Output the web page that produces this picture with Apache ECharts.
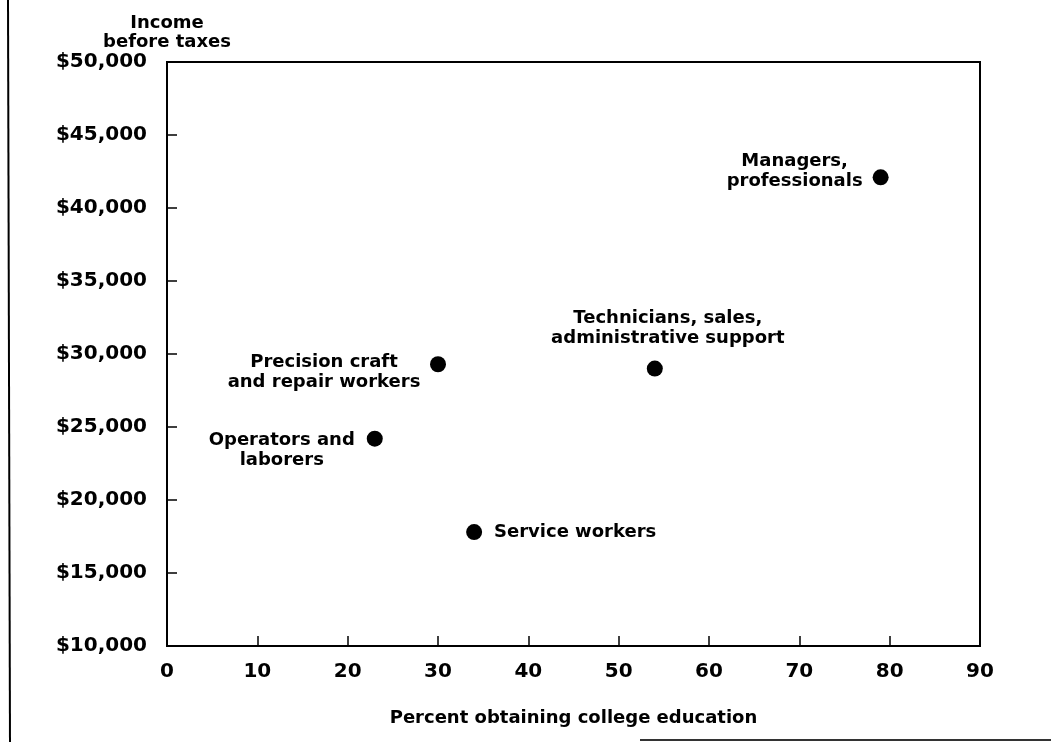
<!DOCTYPE html>
<html>
<head>
<meta charset="utf-8">
<script src="https://cdn.jsdelivr.net/npm/echarts@6/dist/echarts.min.js"></script>
<style>
  html, body { margin: 0; padding: 0; background: #fff; }
  #chart { width: 1051px; height: 742px; }
</style>
</head>
<body>
<div id="chart"></div>
<script>
// occupation groups
var groups = ['Managers,\nprofessionals', 'Technicians, sales,\nadministrative support',
              'Precision craft\nand repair workers', 'Operators and\nlaborers', 'Service workers'];
var collegePct = [79, 54, 30, 23, 34];
var income = [42100, 29000, 29300, 24200, 17800];

// where each label sits relative to its dot
var labelOffsets = [[-86, -6], [13, -40], [-114, 8], [-93, 12], [101, 0]];

var font = 'DejaVu Sans';

function dollars(v) {
  var s = String(v);
  return '$' + s.slice(0, s.length - 3) + ',' + s.slice(-3);
}

var data = [];
for (var i = 0; i < groups.length; i++) {
  data.push({
    name: groups[i],
    value: [collegePct[i], income[i]],
    label: { offset: labelOffsets[i] }
  });
}

var chart = echarts.init(document.getElementById('chart'));
var option = {
  backgroundColor: '#fff',
  animation: false,
  textStyle: { fontFamily: font },
  grid: {
    left: 167, top: 62, right: 71, bottom: 96,
    show: true, borderColor: '#000', borderWidth: 2
  },
  xAxis: {
    type: 'value',
    min: 0, max: 90, interval: 10,
    name: 'Percent obtaining college education',
    nameLocation: 'middle',
    nameGap: 63,
    nameTextStyle: { color: '#000', fontSize: 18, fontWeight: 'bold', fontFamily: font },
    axisLine: { show: true, lineStyle: { color: '#000', width: 2 } },
    axisTick: { show: true, inside: true, length: 10, lineStyle: { color: '#000', width: 1.5 } },
    axisLabel: { color: '#000', fontSize: 20, fontWeight: 'bold', fontFamily: font, margin: 16 },
    splitLine: { show: false }
  },
  yAxis: {
    type: 'value',
    min: 10000, max: 50000, interval: 5000,
    name: 'Income\nbefore taxes',
    nameLocation: 'end',
    nameGap: 10,
    nameTextStyle: { color: '#000', fontSize: 18, fontWeight: 'bold', fontFamily: font, lineHeight: 19 },
    axisLine: { show: true, lineStyle: { color: '#000', width: 2 } },
    axisTick: { show: true, inside: true, length: 10, lineStyle: { color: '#000', width: 1.5 } },
    axisLabel: { color: '#000', fontSize: 20, fontWeight: 'bold', fontFamily: font, margin: 20, formatter: dollars },
    splitLine: { show: false }
  },
  series: [{
    type: 'scatter',
    symbol: 'circle',
    symbolSize: 16,
    itemStyle: { color: '#000', opacity: 1 },
    label: {
      show: true,
      position: 'inside',
      align: 'center',
      verticalAlign: 'middle',
      color: '#000',
      fontSize: 18,
      fontWeight: 'bold',
      fontFamily: font,
      lineHeight: 20,
      formatter: function (p) { return p.name; }
    },
    emphasis: { disabled: true },
    data: data
  }],
  graphic: [
    { type: 'line', shape: { x1: 8, y1: 0, x2: 10, y2: 742 }, style: { stroke: '#000', lineWidth: 2 } },
    { type: 'line', shape: { x1: 640, y1: 740, x2: 1051, y2: 740 }, style: { stroke: '#333', lineWidth: 2 } }
  ]
};
chart.setOption(option);
</script>
</body>
</html>
